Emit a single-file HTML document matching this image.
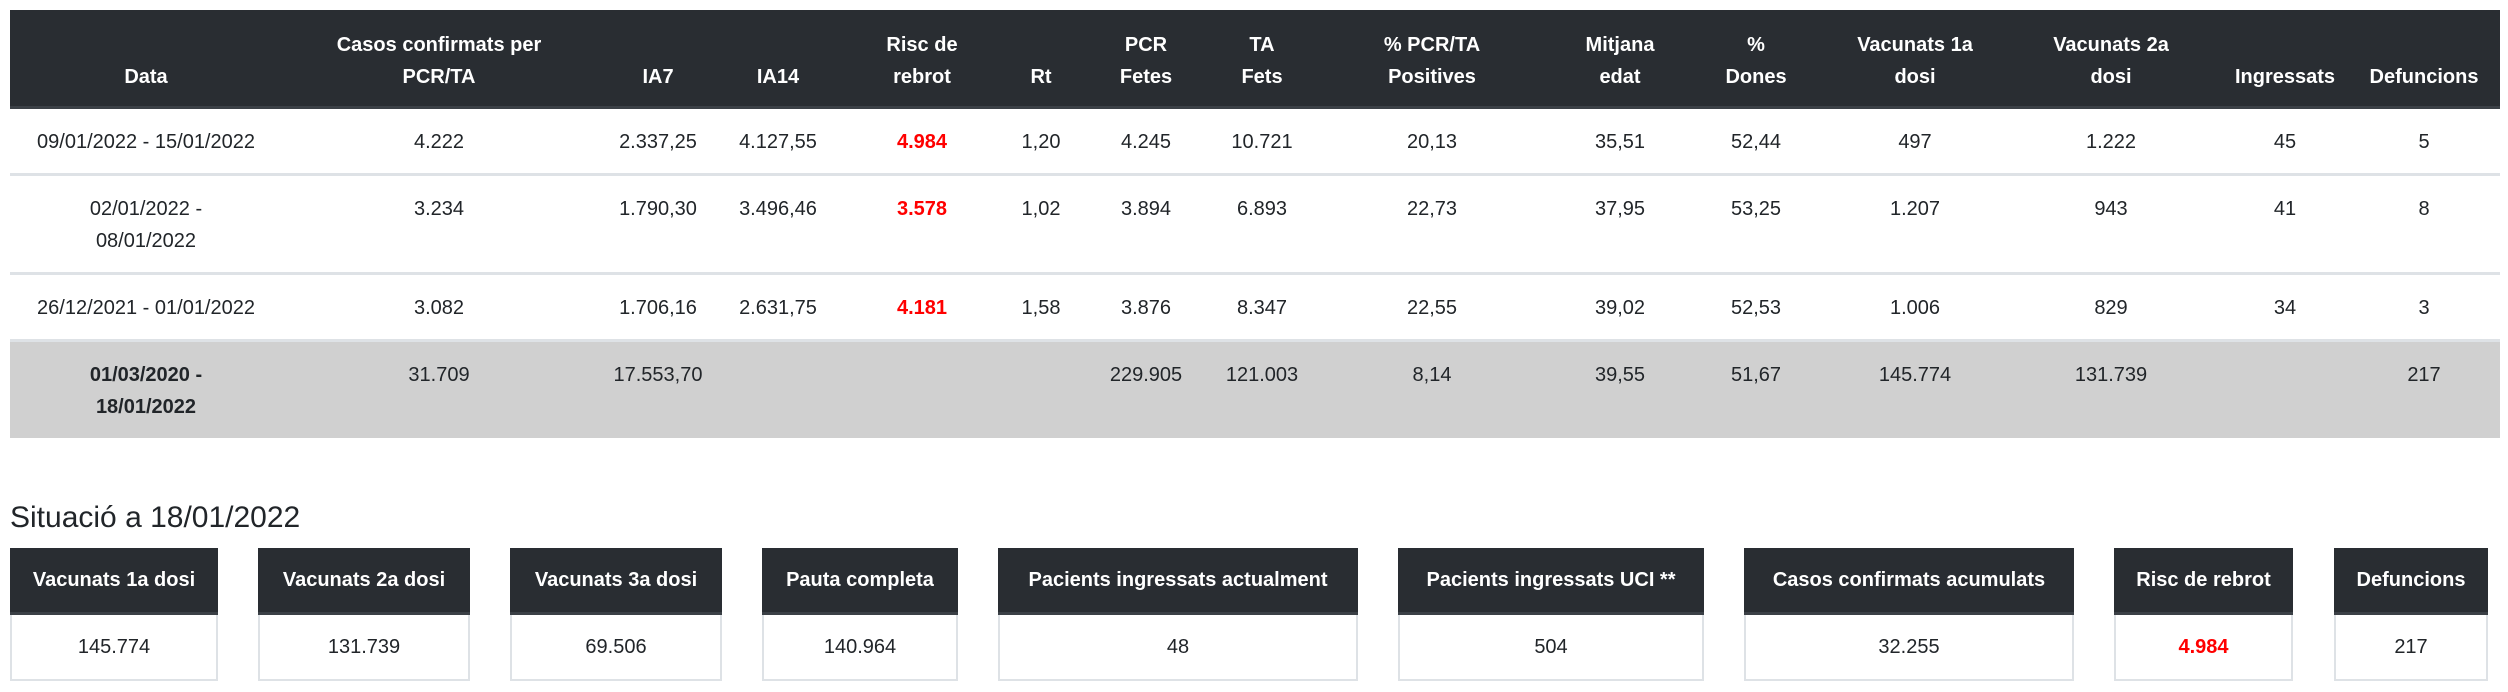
<!DOCTYPE html>
<html><head><meta charset="utf-8"><style>
body{margin:0;width:2508px;height:692px;background:#fff;font-family:"Liberation Sans",sans-serif;color:#212529;position:relative;overflow:hidden}
table{position:absolute;left:10px;top:10px;border-collapse:collapse;table-layout:fixed;width:2490px}
th{background:#292d32;color:#fff;font-weight:bold;font-size:20px;line-height:32px;vertical-align:bottom;padding:19px 0 13px;border-bottom:3px solid #3b4046;white-space:nowrap;text-align:center}
td{font-size:20px;line-height:32px;text-align:center;vertical-align:top;padding:17px 0 15px;border-top:3px solid #dee2e6;white-space:nowrap}
tr.first td{border-top:none}
tr.tot td{background:#d0d0d0;font-weight:normal}
.r{color:#f00;font-weight:bold}
h2{position:absolute;left:10px;top:496px;margin:0;font-size:30px;font-weight:normal;line-height:44px}
.card{position:absolute;top:548px;height:133px}
.card .h{background:#292d32;color:#fff;font-weight:bold;font-size:20px;height:64px;line-height:64px;text-align:center;border-bottom:3px solid #3b4046;white-space:nowrap}
.card .v{height:64px;line-height:64px;text-align:center;font-size:20px;border:2px solid #dee2e6;border-top:none}
</style></head><body>
<table>
<colgroup><col style="width:272px"><col style="width:314px"><col style="width:124px"><col style="width:116px"><col style="width:172px"><col style="width:66px"><col style="width:144px"><col style="width:88px"><col style="width:252px"><col style="width:124px"><col style="width:148px"><col style="width:170px"><col style="width:222px"><col style="width:126px"><col style="width:152px"></colgroup>
<tr><th>Data</th><th>Casos confirmats per<br>PCR/TA</th><th>IA7</th><th>IA14</th><th>Risc de<br>rebrot</th><th>Rt</th><th>PCR<br>Fetes</th><th>TA<br>Fets</th><th>% PCR/TA<br>Positives</th><th>Mitjana<br>edat</th><th>%<br>Dones</th><th>Vacunats 1a<br>dosi</th><th>Vacunats 2a<br>dosi</th><th>Ingressats</th><th>Defuncions</th></tr>
<tr class="first"><td>09/01/2022 - 15/01/2022</td><td>4.222</td><td>2.337,25</td><td>4.127,55</td><td class="r">4.984</td><td>1,20</td><td>4.245</td><td>10.721</td><td>20,13</td><td>35,51</td><td>52,44</td><td>497</td><td>1.222</td><td>45</td><td>5</td></tr>
<tr><td>02/01/2022 -<br>08/01/2022</td><td>3.234</td><td>1.790,30</td><td>3.496,46</td><td class="r">3.578</td><td>1,02</td><td>3.894</td><td>6.893</td><td>22,73</td><td>37,95</td><td>53,25</td><td>1.207</td><td>943</td><td>41</td><td>8</td></tr>
<tr><td>26/12/2021 - 01/01/2022</td><td>3.082</td><td>1.706,16</td><td>2.631,75</td><td class="r">4.181</td><td>1,58</td><td>3.876</td><td>8.347</td><td>22,55</td><td>39,02</td><td>52,53</td><td>1.006</td><td>829</td><td>34</td><td>3</td></tr>
<tr class="tot"><td><b>01/03/2020 -<br>18/01/2022</b></td><td>31.709</td><td>17.553,70</td><td></td><td></td><td></td><td>229.905</td><td>121.003</td><td>8,14</td><td>39,55</td><td>51,67</td><td>145.774</td><td>131.739</td><td></td><td>217</td></tr>
</table>
<h2>Situació a 18/01/2022</h2>
<div class="card" style="left:10px;width:208px"><div class="h">Vacunats 1a dosi</div><div class="v">145.774</div></div>
<div class="card" style="left:258px;width:212px"><div class="h">Vacunats 2a dosi</div><div class="v">131.739</div></div>
<div class="card" style="left:510px;width:212px"><div class="h">Vacunats 3a dosi</div><div class="v">69.506</div></div>
<div class="card" style="left:762px;width:196px"><div class="h">Pauta completa</div><div class="v">140.964</div></div>
<div class="card" style="left:998px;width:360px"><div class="h">Pacients ingressats actualment</div><div class="v">48</div></div>
<div class="card" style="left:1398px;width:306px"><div class="h">Pacients ingressats UCI **</div><div class="v">504</div></div>
<div class="card" style="left:1744px;width:330px"><div class="h">Casos confirmats acumulats</div><div class="v">32.255</div></div>
<div class="card" style="left:2114px;width:179px"><div class="h">Risc de rebrot</div><div class="v r">4.984</div></div>
<div class="card" style="left:2334px;width:154px"><div class="h">Defuncions</div><div class="v">217</div></div>
</body></html>
